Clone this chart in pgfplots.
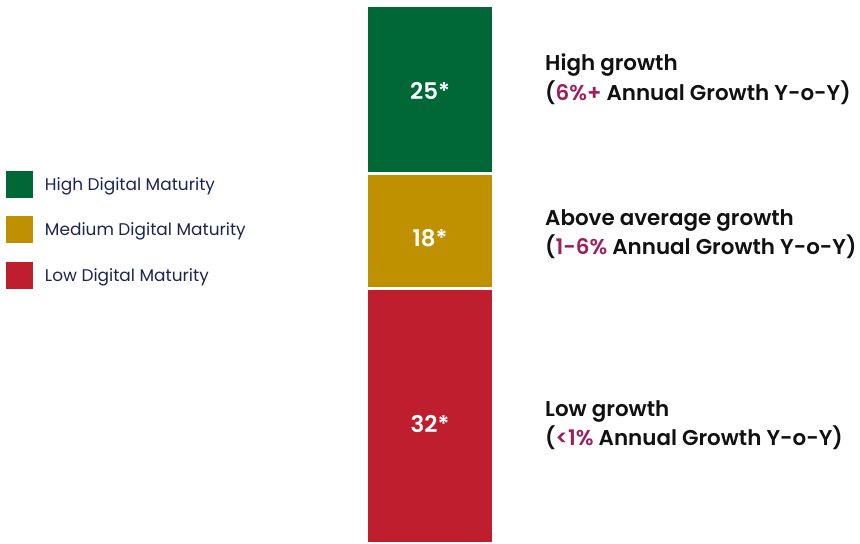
\documentclass[border=0pt]{standalone}
\usepackage{fontspec}
\setmainfont{Poppins}[BoldFont={Poppins SemiBold}]
\usepackage{pgfplots}
\pgfplotsset{compat=1.18}
\definecolor{hiG}{HTML}{006837}
\definecolor{medG}{HTML}{BF9000}
\definecolor{lowG}{HTML}{BE1E2D}
\definecolor{pct}{HTML}{9E1F5E}
\definecolor{navy}{HTML}{1B2550}
\definecolor{txt}{HTML}{111111}
\begin{document}
\begin{tikzpicture}
\begin{axis}[
  width=860bp, height=543bp, scale only axis,
  xmin=0, xmax=860, ymin=0, ymax=543,
  axis lines=none, ticks=none,
  clip=false,
  ybar stacked, bar width=127,
  legend style={at={(axis cs:6,372)}, anchor=north west, draw=none, fill=none,
    inner sep=0pt, outer sep=0pt,
    font=\fontsize{17}{19}\selectfont,
    text=navy,
    row sep=18.5bp, column sep=10bp,
    legend cell align=left},
  legend image code/.code={\path[#1,draw=none] (0bp,-13.5bp) rectangle (27bp,13.5bp);},
  reverse legend,
]
% segment heights (px): low, medium, high
\addplot[fill=lowG, draw=white, line width=3bp] coordinates {(430,254.5)};
\addplot[fill=medG, draw=white, line width=3bp] coordinates {(430,115)};
\addplot[fill=hiG, draw=white, line width=3bp] coordinates {(430,168)};
\legend{Low Digital Maturity, Medium Digital Maturity, High Digital Maturity}

\coordinate (sw) at (axis cs:0,0);
\coordinate (ne) at (axis cs:860,543);
\coordinate (l1) at (axis cs:430,452);
\coordinate (l2) at (axis cs:430,305);
\coordinate (l3) at (axis cs:430,118.5);

\node[anchor=base west, inner sep=0pt, text=txt, font=\fontsize{21.5}{24}\selectfont\bfseries] at (axis cs:545,472) {High growth};
\node[anchor=base west, inner sep=0pt, text=txt, font=\fontsize{21.5}{24}\selectfont\bfseries] at (axis cs:545,442) {(\textcolor{pct}{6\%+} Annual Growth Y-o-Y)};
\node[anchor=base west, inner sep=0pt, text=txt, font=\fontsize{21.5}{24}\selectfont\bfseries] at (axis cs:545,317) {Above average growth};
\node[anchor=base west, inner sep=0pt, text=txt, font=\fontsize{21.5}{24}\selectfont\bfseries] at (axis cs:545,288) {(\textcolor{pct}{1-6\%} Annual Growth Y-o-Y)};
\node[anchor=base west, inner sep=0pt, text=txt, font=\fontsize{21.5}{24}\selectfont\bfseries] at (axis cs:545,127) {Low growth};
\node[anchor=base west, inner sep=0pt, text=txt, font=\fontsize{21.5}{24}\selectfont\bfseries] at (axis cs:545,98) {(\textcolor{pct}{<1\%} Annual Growth Y-o-Y)};
\end{axis}
\node[text=white, font=\fontsize{23}{25}\selectfont\bfseries] at (l1) {25*};
\node[text=white, font=\fontsize{23}{25}\selectfont\bfseries] at (l2) {18*};
\node[text=white, font=\fontsize{23}{25}\selectfont\bfseries] at (l3) {32*};
\pgfresetboundingbox
\useasboundingbox (sw) rectangle (ne);
\end{tikzpicture}
\end{document}
